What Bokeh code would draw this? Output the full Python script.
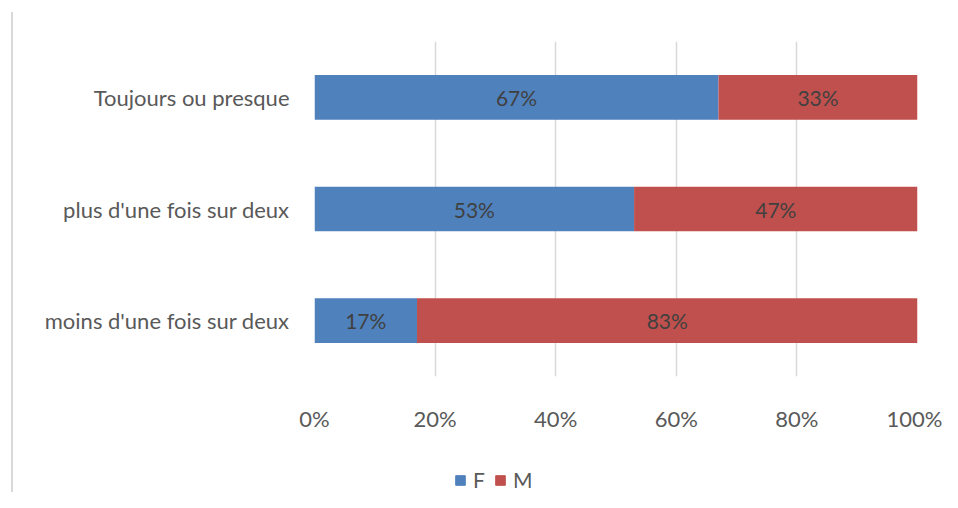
from bokeh.plotting import figure
from bokeh.layouts import column
from bokeh.models import ColumnDataSource, Legend, LegendItem, NumeralTickFormatter, FixedTicker
from bokeh.core.properties import value
from bokeh.embed import file_html
from bokeh.resources import INLINE

categories = ["moins d'une fois sur deux", "plus d'une fois sur deux", "Toujours ou presque"]
f_values = [0.17, 0.53, 0.67]
m_values = [0.83, 0.47, 0.33]
series = ["F", "M"]
colors = ["#4F81BD", "#C0504D"]
x_ticks = [0, 0.2, 0.4, 0.6, 0.8, 1.0]

FONT = "Lato"

src = ColumnDataSource(dict(
    cat=categories,
    F=f_values,
    M=m_values,
    f_mid=[v / 2 for v in f_values],
    m_mid=[f + m / 2 for f, m in zip(f_values, m_values)],
    f_lab=[f"{round(v*100)}%" for v in f_values],
    m_lab=[f"{round(v*100)}%" for v in m_values],
))

p = figure(width=942, height=435, y_range=categories, x_range=(0, 1),
           output_backend="svg", toolbar_location=None,
           min_border_left=314, min_border_right=25, min_border_top=41, min_border_bottom=59)

r = p.hbar_stack(series, y="cat", height=0.4, color=colors, source=src, line_color=None)

p.text(x="f_mid", y="cat", text="f_lab", source=src, text_align="center", text_baseline="middle",
       text_font=value(FONT), text_font_size="21px", text_color="#404040")
p.text(x="m_mid", y="cat", text="m_lab", source=src, text_align="center", text_baseline="middle",
       text_font=value(FONT), text_font_size="21px", text_color="#404040")

p.outline_line_color = None
p.border_fill_color = None
p.ygrid.grid_line_color = None
p.xgrid.grid_line_color = "#D9D9D9"
p.xgrid.grid_line_width = 1.5
p.xaxis.ticker = FixedTicker(ticks=x_ticks)
p.xaxis.formatter = NumeralTickFormatter(format="0%")

for ax in (p.xaxis, p.yaxis):
    ax.axis_line_color = None
    ax.major_tick_line_color = None
    ax.minor_tick_line_color = None
    ax.major_tick_out = 0
    ax.minor_tick_out = 0
    ax.major_label_text_font = FONT
    ax.major_label_text_color = "#595959"

p.xaxis.major_label_text_font_size = "22px"
p.xaxis.major_label_standoff = 28
p.yaxis.major_label_text_font_size = "22px"
p.yaxis.major_label_standoff = 25

# legend strip
lg = figure(width=942, height=57, output_backend="svg", toolbar_location=None,
            x_range=(0, 1), y_range=(0, 1), min_border=0)
lg.xaxis.visible = False
lg.yaxis.visible = False
lg.grid.visible = False
lg.outline_line_color = None
lg.border_fill_color = None
lg.background_fill_color = None
dummy = [lg.hbar(y=[-10], left=[-10], right=[-9], height=0.5, color=c) for c in colors]
legend = Legend(items=[LegendItem(label=s, renderers=[rr]) for s, rr in zip(series, dummy)],
                orientation="horizontal", location=(140, 0),
                glyph_width=12, glyph_height=12, label_text_font=FONT,
                label_text_font_size="21px", label_text_color="#595959",
                border_line_color=None, background_fill_alpha=0, padding=0, margin=0,
                spacing=1, label_standoff=7)
lg.add_layout(legend, "center")

layout = column(p, lg, spacing=0)
layout.styles = {
    "background-color": "white",
    "background-image": "linear-gradient(#D9D9D9, #D9D9D9)",
    "background-repeat": "no-repeat",
    "background-size": "2px 500px",
    "background-position": "11px 12px",
}

open("out.html", "w").write(file_html(layout, INLINE))
